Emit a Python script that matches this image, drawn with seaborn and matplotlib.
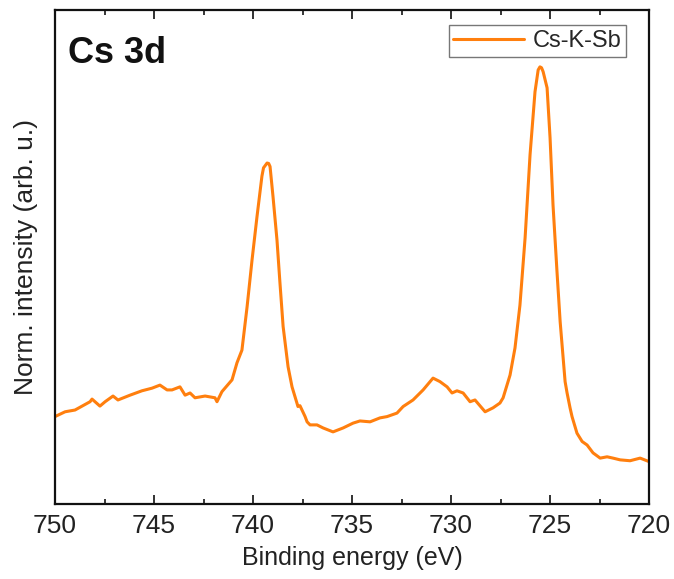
import matplotlib
matplotlib.use("Agg")
import matplotlib.pyplot as plt
import seaborn as sns
import pandas as pd
from matplotlib.ticker import MultipleLocator

binding_energy = [
    750.00, 749.49, 748.99, 748.23, 748.13, 747.73, 747.47, 747.07, 746.82, 746.21,
    745.61, 745.10, 744.70, 744.34, 744.09, 743.69, 743.43, 743.18, 742.93, 742.42,
    741.92, 741.82, 741.57, 741.06, 740.81, 740.56, 740.30, 740.05, 739.80, 739.55,
    739.47, 739.29, 739.21, 739.14, 738.99, 738.79, 738.64, 738.48, 738.23, 738.03,
    737.73, 737.63, 737.37, 737.27, 737.12, 736.77, 736.46, 735.96, 735.45, 734.95,
    734.60, 734.09, 733.59, 733.23, 732.73, 732.42, 731.92, 731.41, 730.91, 730.56,
    730.20, 729.95, 729.70, 729.39, 729.04, 728.79, 728.28, 727.88, 727.53, 727.37,
    727.02, 726.77, 726.52, 726.26, 726.01, 725.76, 725.60, 725.51, 725.43, 725.35,
    725.15, 725.00, 724.85, 724.65, 724.49, 724.24, 724.14, 723.99, 723.89, 723.64,
    723.38, 723.13, 722.83, 722.47, 722.12, 721.82, 721.46, 720.96, 720.45, 720.00,
]
intensity = [
    0.200, 0.211, 0.215, 0.234, 0.240, 0.224, 0.234, 0.247, 0.238, 0.249,
    0.259, 0.265, 0.272, 0.261, 0.261, 0.268, 0.249, 0.254, 0.243, 0.247,
    0.243, 0.234, 0.257, 0.284, 0.323, 0.352, 0.451, 0.558, 0.657, 0.750,
    0.769, 0.780, 0.779, 0.772, 0.703, 0.604, 0.506, 0.406, 0.314, 0.268,
    0.223, 0.225, 0.200, 0.188, 0.181, 0.181, 0.174, 0.165, 0.174, 0.185,
    0.190, 0.188, 0.197, 0.200, 0.208, 0.223, 0.238, 0.261, 0.288, 0.280,
    0.268, 0.254, 0.259, 0.254, 0.234, 0.238, 0.211, 0.220, 0.231, 0.243,
    0.295, 0.357, 0.455, 0.609, 0.799, 0.943, 0.993, 1.000, 0.998, 0.989,
    0.952, 0.838, 0.684, 0.532, 0.417, 0.280, 0.254, 0.220, 0.200, 0.162,
    0.143, 0.135, 0.117, 0.105, 0.108, 0.105, 0.101, 0.099, 0.105, 0.097,
]
series_name = "Cs-K-Sb"
panel_label = "Cs 3d"
x_ticks = [750, 745, 740, 735, 730, 725, 720]

df = pd.DataFrame({"Binding energy (eV)": binding_energy,
                   "Norm. intensity (arb. u.)": intensity,
                   "sample": series_name})

sns.set_theme(style="ticks")
plt.rcParams["font.family"] = ["Liberation Sans", "DejaVu Sans"]

fig = plt.figure(figsize=(6.74, 5.79), dpi=100)
ax = fig.add_axes([0.0816, 0.1295, 0.8814, 0.8532])

sns.lineplot(data=df, x="Binding energy (eV)", y="Norm. intensity (arb. u.)",
             hue="sample", palette=["#FF7F0E"], linewidth=2.2, ax=ax,
             estimator=None, sort=False)

ax.set_xlim(750, 720)
ax.set_ylim(0, 1.13)
ax.set_xticks(x_ticks)
ax.set_xticklabels([str(t) for t in x_ticks])
ax.xaxis.set_minor_locator(MultipleLocator(2.5))
ax.set_yticks([])
ax.tick_params(axis="x", which="major", direction="in", length=6.5, width=1.3,
               top=True, bottom=True, labelsize=19, pad=7, colors="#222222")
ax.tick_params(axis="x", which="minor", direction="in", length=3.5, width=1.3,
               top=True, bottom=True)
for s in ax.spines.values():
    s.set_visible(True)
    s.set_linewidth(1.6)
    s.set_color("#111111")

ax.set_xlabel("Binding energy (eV)", fontsize=18, color="#222222", labelpad=6)
ax.set_ylabel("Norm. intensity (arb. u.)", fontsize=19, color="#222222", labelpad=12)

ax.text(0.022, 0.912, panel_label, transform=ax.transAxes, fontsize=26,
        fontweight="bold", ha="left", va="center", color="#111111")

leg = ax.legend(loc="upper right", bbox_to_anchor=(0.973, 0.983), fontsize=17,
                frameon=True, fancybox=False, handlelength=3.0, handletextpad=0.35,
                borderpad=0.2, borderaxespad=0.3)
leg.get_frame().set_edgecolor("#555555")
leg.get_frame().set_linewidth(1.0)
leg.set_title(None)

fig.savefig("out.png", dpi=100)
